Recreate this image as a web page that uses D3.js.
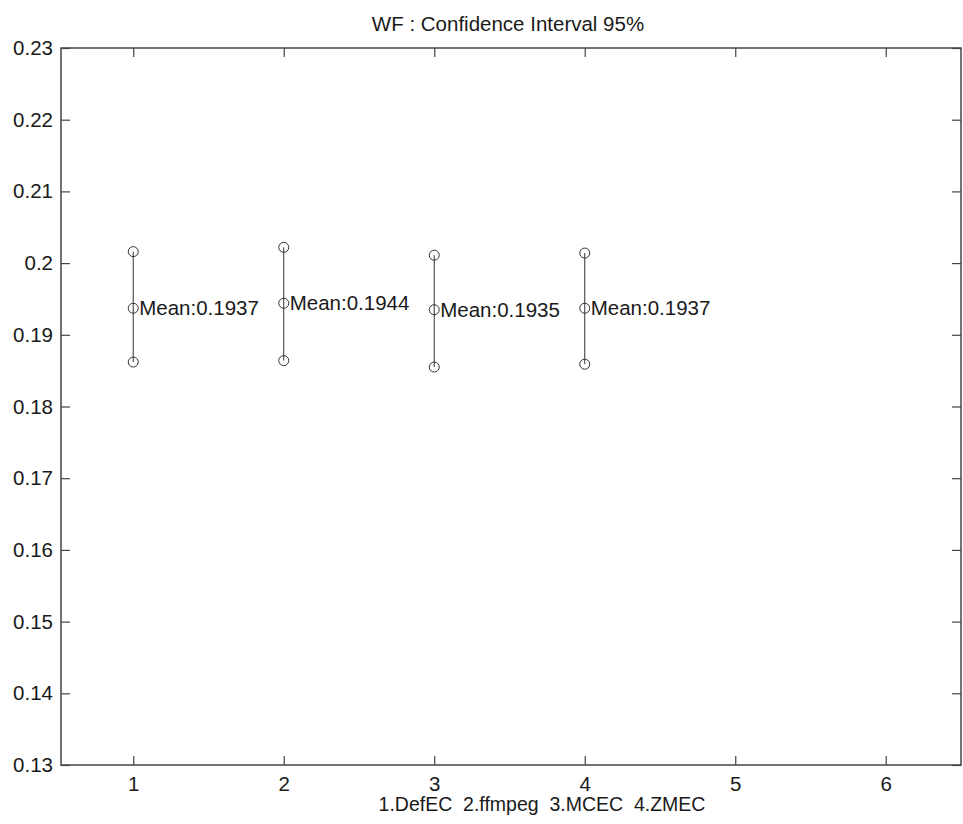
<!DOCTYPE html>
<html>
<head>
<meta charset="utf-8">
<script src="https://cdn.jsdelivr.net/npm/d3@7"></script>
<style>
  body { margin: 0; background: #fff; }
  text { font-family: "Liberation Sans", Arial, sans-serif; fill: #1a1a1a; }
</style>
</head>
<body>
<svg id="ci-svg" width="963" height="824"></svg>
<script>
// data
let methods = ["DefEC", "ffmpeg", "MCEC", "ZMEC"];
let xPos = [1, 2, 3, 4];
let means = [0.1937, 0.1944, 0.1935, 0.1937];
let upper = [0.2016, 0.2022, 0.2011, 0.2014];
let lower = [0.1862, 0.1864, 0.1855, 0.1859];
let xTicks = [1, 2, 3, 4, 5, 6];
let yTicks = [0.13, 0.14, 0.15, 0.16, 0.17, 0.18, 0.19, 0.2, 0.21, 0.22, 0.23];

let svg = d3.select("#ci-svg");
let plotLeft = 61, plotRight = 961, plotTop = 48, plotBottom = 765;
let tickLen = 9;
let axisColor = "#444";

let x = d3.scaleLinear().domain([0.52, 6.5]).range([plotLeft, plotRight]);
let y = d3.scaleLinear().domain([0.13, 0.23]).range([plotBottom, plotTop]);

let fmt = function (d) { return String(+d.toFixed(2)); };

// box
svg.append("rect")
  .attr("x", plotLeft).attr("y", plotTop)
  .attr("width", plotRight - plotLeft).attr("height", plotBottom - plotTop)
  .attr("fill", "none").attr("stroke", axisColor).attr("stroke-width", 1.5);

// axes (ticks point inward)
let xb = svg.append("g").attr("transform", "translate(0," + plotBottom + ")")
  .call(d3.axisBottom(x).tickValues(xTicks).tickSizeInner(-tickLen).tickSizeOuter(0).tickPadding(11).tickFormat(d3.format("d")));
let xt = svg.append("g").attr("transform", "translate(0," + plotTop + ")")
  .call(d3.axisTop(x).tickValues(xTicks).tickSizeInner(-tickLen).tickSizeOuter(0).tickFormat(""));
let yl = svg.append("g").attr("transform", "translate(" + plotLeft + ",0)")
  .call(d3.axisLeft(y).tickValues(yTicks).tickSizeInner(-tickLen).tickSizeOuter(0).tickPadding(8).tickFormat(fmt));
let yr = svg.append("g").attr("transform", "translate(" + plotRight + ",0)")
  .call(d3.axisRight(y).tickValues(yTicks).tickSizeInner(-tickLen).tickSizeOuter(0).tickFormat(""));

[xb, xt, yl, yr].forEach(function (g) {
  g.select(".domain").remove();
  g.selectAll(".tick line").attr("stroke", axisColor).attr("stroke-width", 1.2);
  g.selectAll(".tick text").style("font-size", "20.5px").attr("fill", "#1a1a1a");
});

// error bars
let bars = svg.selectAll(".ci")
  .data(methods.map(function (m, i) {
    return { name: m, x: xPos[i], mean: means[i], hi: upper[i], lo: lower[i] };
  }))
  .enter()
  .append("g")
  .attr("class", "ci");

bars.append("line")
  .attr("x1", function (d) { return x(d.x); })
  .attr("x2", function (d) { return x(d.x); })
  .attr("y1", function (d) { return y(d.hi); })
  .attr("y2", function (d) { return y(d.lo); })
  .attr("stroke", "#333").attr("stroke-width", 1);

["hi", "mean", "lo"].forEach(function (k) {
  bars.append("circle")
    .attr("cx", function (d) { return x(d.x); })
    .attr("cy", function (d) { return y(d[k]); })
    .attr("r", 5)
    .attr("fill", "none").attr("stroke", "#333").attr("stroke-width", 1);
});

bars.append("text")
  .attr("x", function (d) { return x(d.x) + 6; })
  .attr("y", function (d) { return y(d.mean); })
  .attr("dy", "0.35em")
  .style("font-size", "20.5px")
  .text(function (d) { return "Mean:" + d.mean.toFixed(4); });

// title and x label
svg.append("text")
  .attr("x", 508).attr("y", 31)
  .attr("text-anchor", "middle")
  .style("font-size", "20.5px")
  .text("WF : Confidence Interval 95%");

svg.append("text")
  .attr("x", 542).attr("y", 811)
  .attr("text-anchor", "middle")
  .attr("xml:space", "preserve")
  .style("font-size", "19.5px")
  .style("white-space", "pre")
  .text(methods.map(function (m, i) { return xPos[i] + "." + m; }).join("  "));
</script>
</body>
</html>
